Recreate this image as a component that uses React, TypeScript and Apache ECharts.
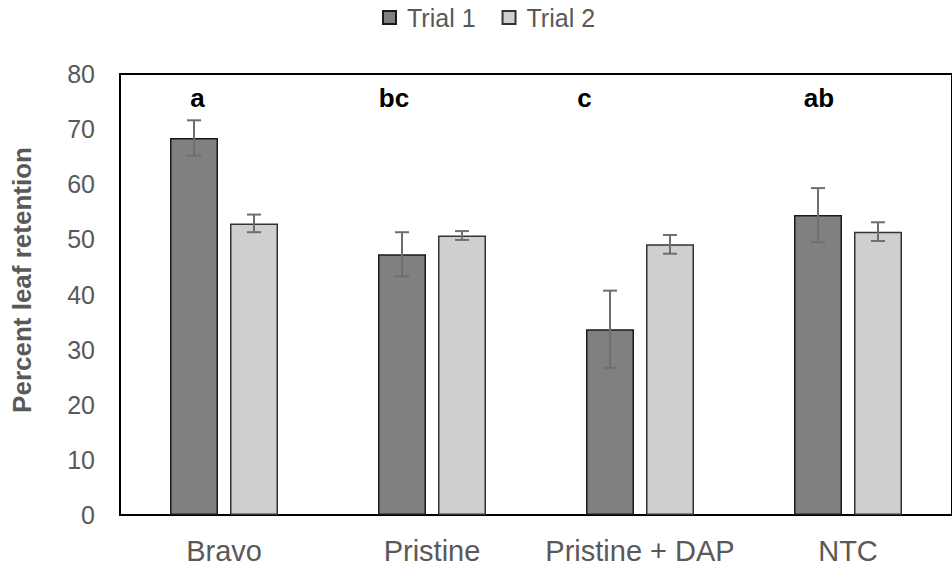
import React, { useEffect, useRef } from "react";
import * as echarts from "echarts";

const categories = ["Bravo", "Pristine", "Pristine + DAP", "NTC"];
const seriesNames = ["Trial 1", "Trial 2"];
const trial1 = [68.4, 47.3, 33.7, 54.4];
const trial1Err = [3.2, 4.0, 7.0, 4.9];
const trial2 = [52.9, 50.7, 49.1, 51.4];
const trial2Err = [1.6, 0.8, 1.7, 1.7];
const letters = ["a", "bc", "c", "ab"];
const letterLevel = 75.7;
const yTicks = { min: 0, max: 80, interval: 10 };

// styling offsets (px) for letter placement relative to category centre
const LETTER_DX = [-26.5, -38, -55.5, -29];
const BAR_OFFSET = [-30, 30];

const FONT = "Liberation Sans, Arial, sans-serif";

export default function App() {
  const ref = useRef<HTMLDivElement>(null);
  useEffect(() => {
    if (!ref.current) return;
    const chart = echarts.init(ref.current, null, { renderer: "svg" });

    const errData = (vals: number[], errs: number[]) =>
      vals.map((v, i) => [i, v - errs[i], v + errs[i]]);

    const errSeries = (name: string, vals: number[], errs: number[], offset: number) => ({
      type: "custom",
      name: name + " err",
      data: errData(vals, errs),
      encode: { x: 0, y: [1, 2] },
      z: 10,
      silent: true,
      renderItem: (params: any, api: any) => {
        const cx = api.coord([api.value(0), 0])[0] + offset;
        const yLo = api.coord([api.value(0), api.value(1)])[1];
        const yHi = api.coord([api.value(0), api.value(2)])[1];
        const half = 7;
        const style = { stroke: "#6e6e6e", lineWidth: 2 };
        return {
          type: "group",
          children: [
            { type: "line", shape: { x1: cx, y1: yLo, x2: cx, y2: yHi }, style },
            { type: "line", shape: { x1: cx - half, y1: yHi, x2: cx + half, y2: yHi }, style },
            { type: "line", shape: { x1: cx - half, y1: yLo, x2: cx + half, y2: yLo }, style },
          ],
        };
      },
    });

    chart.setOption({
      animation: false,
      backgroundColor: "#fff",
      legend: {
        data: seriesNames,
        left: 377,
        top: 0,
        itemWidth: 13,
        itemHeight: 13,
        itemGap: 26,
        icon: "rect",
        textStyle: { fontSize: 25, color: "#595959", fontFamily: FONT, padding: [0, 0, 0, 6] },
      },
      grid: {
        left: 120,
        top: 74,
        width: 840,
        height: 443,
        show: true,
        borderColor: "#000",
        borderWidth: 2,
        backgroundColor: "transparent",
      },
      xAxis: {
        type: "category",
        data: categories,
        axisLine: { show: true, lineStyle: { color: "#000", width: 2 } },
        axisTick: { show: false },
        axisLabel: { fontSize: 29, color: "#595959", fontFamily: FONT, margin: 21, interval: 0 },
      },
      yAxis: {
        type: "value",
        min: yTicks.min,
        max: yTicks.max,
        interval: yTicks.interval,
        axisLine: { show: true, lineStyle: { color: "#000", width: 2 } },
        axisTick: { show: false },
        splitLine: { show: false },
        axisLabel: { fontSize: 25, color: "#595959", fontFamily: FONT, margin: 25 },
      },
      graphic: [
        {
          type: "text",
          x: 22,
          y: 280,
          rotation: Math.PI / 2,
          style: {
            text: "Percent leaf retention",
            font: `bold 26px ${FONT}`,
            fill: "#595959",
            textAlign: "center",
            textVerticalAlign: "middle",
          },
        },
      ],
      series: [
        {
          type: "bar",
          name: seriesNames[0],
          data: trial1,
          barWidth: 48,
          barGap: "25%",
          itemStyle: { color: "#808080", borderColor: "#1a1a1a", borderWidth: 1.5 },
        },
        {
          type: "bar",
          name: seriesNames[1],
          data: trial2,
          barWidth: 48,
          barGap: "25%",
          itemStyle: { color: "#d0cece", borderColor: "#333", borderWidth: 1.5 },
        },
        errSeries(seriesNames[0], trial1, trial1Err, BAR_OFFSET[0]),
        errSeries(seriesNames[1], trial2, trial2Err, BAR_OFFSET[1]),
        {
          type: "custom",
          name: "letters",
          data: letters.map((l, i) => [i, letterLevel, l]),
          encode: { x: 0, y: 1 },
          silent: true,
          z: 11,
          renderItem: (params: any, api: any) => {
            const idx = params.dataIndex;
            const p = api.coord([api.value(0), api.value(1)]);
            return {
              type: "text",
              x: p[0] + LETTER_DX[idx],
              y: p[1],
              style: {
                text: letters[idx],
                font: `bold 26px ${FONT}`,
                fill: "#000",
                textAlign: "center",
                textVerticalAlign: "middle",
              },
            };
          },
        },
      ],
    });
    return () => chart.dispose();
  }, []);

  return (
    <div
      ref={ref}
      style={{ position: "fixed", left: 0, top: 0, width: 952, height: 565 }}
    />
  );
}
